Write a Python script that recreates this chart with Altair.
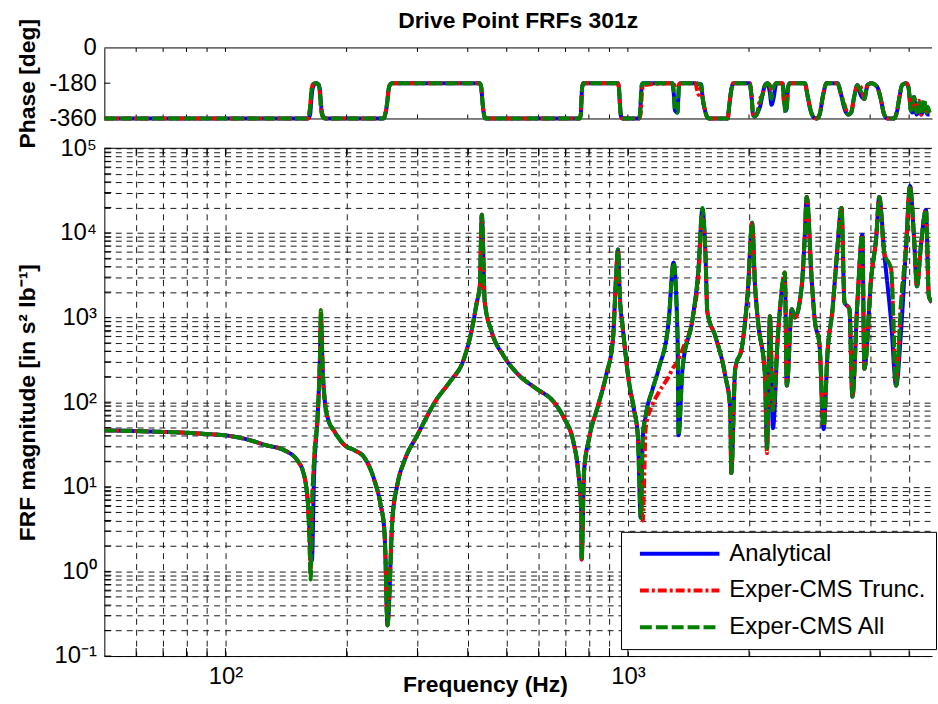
import altair as alt
import pandas as pd

FONT = "Liberation Sans"

series_names = ["Analytical", "Exper-CMS Trunc.", "Exper-CMS All"]
series_colors = ["#0000ff", "#ff0000", "#008000"]
series_dashes = [[1, 0], [9, 3, 3, 3], [12, 4]]

chart_title = "Drive Point FRFs 301z"

# ---- magnitude data (Hz, in s^2 lb^-1) ----
mag_freq = [50, 60, 70, 80, 90, 100, 114, 126, 140, 151.4, 155.8, 158.5, 160.3, 161.8, 162.8, 164, 165.9,
            169.7, 171.6, 172.6, 174.5, 176.6, 179.7, 186.6, 197.8, 209.4, 221.6, 234.4, 242.7, 248.3, 250,
            251.5, 252.6, 259.8, 267.3, 278.2, 299.6, 335.7, 361.4, 391.4, 409.7, 421.4, 428.6, 433.6, 441,
            458.9, 491.3, 538.1, 592.7, 652.8, 695, 731.5, 752.5, 765.6, 767.5, 778.4, 801, 843.3, 882.5,
            918.3, 934, 944.8, 955, 972, 1006, 1034.7, 1058.5, 1076.5, 1089, 1107.7, 1152.7, 1192.7, 1262.4,
            1298.8, 1328.7, 1336.4, 1367, 1447.4, 1497.6, 1532, 1558.3, 1576, 1649, 1746, 1796.6, 1806.9,
            1848.5, 1923, 1990, 2035.6, 2070.6, 2106.5, 2191.6, 2216.9, 2254.4, 2293.4, 2359.4, 2455, 2483.3,
            2555, 2598.6, 2704, 2751, 2782.6, 2862.4, 2911.7, 2995.6, 3064.7, 3135.3, 3225.6, 3299.9, 3395.3,
            3453.7, 3553, 3614, 3718.7, 3825.6, 3869.4, 4027, 4143, 4214, 4335.5, 4511, 4641, 4775, 4913,
            5025, 5140, 5229, 5346, 5504, 5598, 5696]

mag_all = [46.4, 45.5, 44.5, 43.5, 42, 40.5, 36, 31, 27, 20, 15.3, 10.5, 6.3, 2.1, 0.8, 5.2, 20,
           78, 300, 1220, 230, 102, 64, 45, 31, 27, 22, 12, 6.3, 3.0, 1.3,
           0.38, 0.23, 4.0, 10.5, 20.1, 40.5, 110, 175, 325, 731, 1520, 2340, 16360, 1520,
           674, 352, 205, 144, 102, 64, 34.5, 15.3, 5.2, 1.38, 15.3, 37.4, 91, 205,
           557, 2820, 6350, 1780, 731, 175, 84, 40.5, 4.3, 40, 70, 144, 248, 883,
           4470, 605, 40.5, 248, 957, 3700, 19770, 5860, 1157, 605, 205, 84, 14.5,
           248, 461, 2340, 13200, 2340, 883, 205, 28.5, 1037, 80, 605, 3410, 157,
           1255, 1000, 2340, 9020, 26600, 2820, 957, 461, 52, 392, 1255, 4840, 19770,
           1520, 1255, 116, 1520, 9530, 248, 3060, 9020, 26600, 5860, 3700, 157, 1520, 6880,
           35800, 9020, 2340, 6880, 18700, 1780, 1520]

mag_analytical = [46.4, 45.5, 44.5, 43.5, 42, 40.5, 36, 31, 27, 20, 15.3, 10.5, 6.3, 3.0, 1.5, 1.35, 12,
                  78, 300, 900, 230, 102, 64, 45, 31, 27, 22, 12, 6.3, 3.0, 1.3,
                  0.38, 0.23, 4.0, 10.5, 20.1, 40.5, 110, 175, 325, 731, 1520, 2340, 16360, 1520,
                  674, 352, 205, 144, 102, 64, 34.5, 15.3, 5.2, 1.38, 15.3, 37.4, 91, 205,
                  557, 2820, 6350, 1780, 731, 175, 84, 40.5, 4.3, 38, 70, 144, 248, 883,
                  4470, 605, 40.5, 248, 957, 3700, 19000, 5860, 1157, 605, 205, 84, 14.5,
                  248, 461, 2340, 13200, 2340, 883, 205, 28.5, 1037, 49, 605, 3000, 157,
                  1255, 1000, 2340, 9020, 26600, 2820, 957, 461, 48, 392, 1255, 4840, 19770,
                  1520, 1255, 116, 1520, 9530, 248, 3060, 9020, 26600, 5860, 880, 157, 700, 6880,
                  35800, 9020, 2340, 6880, 18700, 1780, 1520]

mag_trunc = [46.4, 45.5, 44.5, 43.5, 42, 40.5, 36, 31, 27, 20, 15.3, 10.5, 6.3, 2.1, 0.9, 5.0, 20,
             78, 300, 1220, 230, 102, 64, 45, 31, 27, 22, 12, 6.3, 3.0, 1.3,
             0.38, 0.23, 4.0, 10.5, 20.1, 40.5, 110, 175, 325, 731, 1520, 2340, 16360, 1520,
             674, 352, 205, 144, 102, 64, 34.5, 15.3, 5.2, 1.38, 15.3, 37.4, 91, 205,
             557, 2820, 6350, 1780, 731, 175, 84, 40.5, 10, 4.0, 50, 95, 130, 200,
             260, 300, 320, 420, 950, 3000, 16000, 5860, 1157, 605, 205, 84, 14.5,
             248, 461, 2340, 13200, 2340, 883, 205, 25, 1037, 80, 605, 3410, 157,
             1255, 1000, 2340, 9020, 26600, 2820, 957, 461, 52, 392, 1255, 4840, 19770,
             1520, 1255, 116, 1520, 9530, 248, 3060, 9020, 26600, 5860, 3700, 157, 1520, 6880,
             35800, 9020, 2340, 6880, 18700, 1780, 1520]

# ---- phase data (Hz, deg) ----
phase_freq = [50, 160.3, 162.3, 163.5, 165, 167.8, 170, 171.6, 173, 175, 177, 247, 250, 252.6, 254, 256, 259,
              428, 432, 435, 439, 443, 758, 764, 767, 770, 776, 944, 950, 955, 962, 970, 1065, 1072, 1077,
              1082, 1090, 1290, 1299, 1310, 1328, 1334, 1340, 1350, 1470, 1500, 1520, 1535, 1560, 1576, 1590,
              1770, 1785, 1805, 1830, 2006, 2030, 2047, 2065, 2100, 2130, 2160, 2192, 2220, 2254, 2275, 2300,
              2340, 2420, 2440, 2465, 2483, 2500, 2530, 2751, 2800, 2846, 2900, 2946, 2996, 3050, 3118, 3318,
              3380, 3454, 3530, 3588, 3650, 3719, 3790, 3869, 3940, 4027, 4167, 4250, 4335, 4420, 4590, 4668,
              4740, 4802, 4913, 4980, 5054, 5100, 5140, 5220, 5288, 5360, 5442, 5520, 5560, 5620]

phase_all = [-360, -360, -300, -220, -185, -180, -185, -230, -320, -355, -360, -360, -330, -270, -220, -190, -180,
             -180, -200, -270, -340, -360, -360, -340, -260, -200, -180, -180, -200, -280, -350, -360, -360, -330, -250,
             -190, -180, -180, -220, -320, -330, -260, -190, -180, -180, -182, -190, -260, -330, -355, -360,
             -360, -300, -220, -180, -180, -250, -340, -350, -330, -280, -240, -190, -180, -200, -260, -200,
             -180, -180, -250, -330, -300, -200, -180, -180, -250, -320, -355, -360, -340, -250, -180, -180,
             -230, -300, -340, -330, -250, -190, -220, -260, -190, -180, -200, -260, -340, -360, -360, -320,
             -240, -190, -180, -200, -320, -300, -250, -330, -280, -340, -260, -330, -300, -330]

phase_analytical = [-360, -360, -340, -260, -200, -180, -185, -210, -300, -350, -360, -360, -330, -270, -220, -190, -180,
                    -180, -200, -270, -340, -360, -360, -340, -260, -200, -180, -180, -200, -280, -350, -360, -360, -340, -270,
                    -200, -180, -180, -220, -320, -330, -260, -190, -180, -180, -185, -185, -260, -330, -355, -360,
                    -360, -300, -220, -180, -180, -250, -340, -350, -330, -300, -240, -190, -180, -230, -290, -260,
                    -180, -180, -230, -320, -300, -200, -180, -180, -250, -320, -355, -360, -340, -250, -180, -180,
                    -230, -310, -340, -330, -250, -190, -240, -260, -190, -180, -200, -260, -340, -360, -360, -320,
                    -240, -190, -180, -200, -320, -330, -250, -340, -300, -340, -300, -330, -340, -340]

phase_trunc = [-360, -360, -300, -220, -185, -180, -185, -230, -320, -355, -360, -360, -330, -270, -220, -190, -180,
               -180, -200, -270, -340, -360, -360, -340, -260, -200, -180, -180, -200, -280, -350, -360, -360, -350, -330,
               -250, -190, -180, -185, -190, -185, -180, -190, -180, -180, -240, -200, -260, -330, -355, -360,
               -360, -300, -220, -180, -180, -250, -340, -350, -330, -260, -240, -190, -180, -190, -220, -190,
               -180, -180, -270, -300, -300, -200, -180, -180, -250, -320, -355, -360, -340, -250, -180, -180,
               -230, -290, -340, -330, -250, -190, -200, -260, -190, -180, -200, -260, -340, -360, -360, -320,
               -240, -190, -180, -200, -320, -290, -250, -320, -270, -340, -270, -330, -310, -330]

# ---- ticks / labels ----
x_tick_values = [60, 70, 80, 90, 100, 200, 300, 400, 500, 600, 700, 800, 900, 1000, 2000, 3000, 4000, 5000]
mag_tick_values = [k * 10.0 ** e for e in range(-1, 5) for k in range(1, 10)] + [1e5]
phase_tick_values = [-360, -180, 0]


def long_df(freq, cols):
    rows = []
    for name, vals in zip(series_names, cols):
        for f, v in zip(freq, vals):
            rows.append({"freq": f, "value": v, "series": name})
    return pd.DataFrame(rows)


mag_df = long_df(mag_freq, [mag_analytical, mag_trunc, mag_all])
ph_df = long_df(phase_freq, [phase_analytical, phase_trunc, phase_all])

W, H_PH, H_MAG = 833, 71, 511
TICK_FS, TITLE_FS = 24, 23

x_scale = alt.Scale(type="log", domain=[50, 5700], nice=False)
mag_scale = alt.Scale(type="log", domain=[0.1, 1e5], nice=False)
ph_scale = alt.Scale(domain=[-360, 0], nice=False, zero=False)
color_scale = alt.Scale(domain=series_names, range=series_colors)
dash_scale = alt.Scale(domain=series_names, range=series_dashes)

legend = alt.Legend(title=None, orient="none", legendX=520, legendY=386, symbolType="M-4,0H4",
                    symbolSize=400, symbolStrokeWidth=4, symbolFillColor="transparent",
                    labelFont=FONT, labelFontSize=24,
                    labelColor="black", labelLimit=400, labelOffset=38, padding=10, rowPadding=13,
                    symbolOffset=37, fillColor="white", strokeColor="black", cornerRadius=0)

grid_style = dict(gridColor="#1a1a1a", gridDash=[6, 5], gridWidth=1)

x_axis_mag = alt.Axis(values=x_tick_values,
                      labelExpr="datum.value == 100 ? '10\u00b2' : datum.value == 1000 ? '10\u00b3' : ''",
                      grid=True, ticks=False, domain=True, domainColor="black", labelFont=FONT,
                      labelFontSize=TICK_FS, labelColor="black", labelPadding=9, labelOverlap=False,
                      labelFlush=False, title="Frequency (Hz)", titleFont=FONT, titleFontSize=TITLE_FS,
                      titleFontWeight="bold", titleColor="black", titleX=383, titleY=29,
                      titleBaseline="middle", titleAlign="center", **grid_style)

y_label_expr = ("datum.value == 0.1 ? '10\u207b\u00b9' : datum.value == 1 ? '10\u2070' : "
                "datum.value == 10 ? '10\u00b9' : datum.value == 100 ? '10\u00b2' : "
                "datum.value == 1000 ? '10\u00b3' : datum.value == 10000 ? '10\u2074' : "
                "datum.value == 100000 ? '10\u2075' : ''")

y_axis_mag = alt.Axis(values=mag_tick_values, labelExpr=y_label_expr, grid=True, ticks=False,
                      domain=True, domainColor="black", labelFont=FONT, labelFontSize=TICK_FS,
                      labelColor="black", labelPadding=8, labelOverlap=False, labelFlush=False,
                      title="FRF magnitude [in s\u00b2 lb\u207b\u00b9]", titleFont=FONT, titleFontSize=TITLE_FS,
                      titleFontWeight="bold", titleColor="black", titleX=-77, titleBaseline="middle",
                      **grid_style)

x_axis_ph = alt.Axis(values=x_tick_values, labels=False, ticks=False, grid=False, domain=True,
                     domainColor="black", title=None)

y_axis_ph = alt.Axis(values=phase_tick_values, labelExpr="'' + datum.value", grid=False, ticks=False,
                     domain=True, domainColor="black", labelFont=FONT, labelFontSize=TICK_FS, labelColor="black",
                     labelPadding=8, labelOverlap=False, labelFlush=False, title="Phase [deg]",
                     titleFont=FONT, titleFontSize=TITLE_FS, titleFontWeight="bold", titleColor="black",
                     titleX=-77, titleBaseline="middle")


def line_layers(df, yscale, xaxis, yaxis, show_legend, clip):
    layers = []
    for name in series_names:
        sub = df[df.series == name]
        layers.append(
            alt.Chart(sub).mark_line(strokeWidth=4, clip=clip, interpolate="monotone").encode(
                x=alt.X("freq:Q", scale=x_scale, axis=xaxis),
                y=alt.Y("value:Q", scale=yscale, axis=yaxis),
                color=alt.Color("series:N", scale=color_scale, legend=legend if show_legend else None),
                strokeDash=alt.StrokeDash("series:N", scale=dash_scale,
                                          legend=legend if show_legend else None),
            )
        )
    return layers


xt_df = pd.DataFrame({"freq": x_tick_values})
one_row = pd.DataFrame({"a": [0]})


def x_ticks(xaxis, h, size):
    top = alt.Chart(xt_df).mark_rule(color="black", strokeWidth=1).encode(
        x=alt.X("freq:Q", scale=x_scale, axis=xaxis), y=alt.value(0), y2=alt.value(size))
    bottom = alt.Chart(xt_df).mark_rule(color="black", strokeWidth=1).encode(
        x=alt.X("freq:Q", scale=x_scale, axis=xaxis), y=alt.value(h - size), y2=alt.value(h))
    return [top, bottom]


def top_border():
    return alt.Chart(one_row).mark_rule(color="black", strokeWidth=1).encode(
        x=alt.value(0), x2=alt.value(W), y=alt.value(0))


title_mark = alt.Chart(one_row).mark_text(
    text=chart_title, font=FONT, fontSize=23, fontWeight="bold", color="black",
    align="center", baseline="middle"
).encode(x=alt.value(W / 2), y=alt.value(-27))

# phase panel
ph_left_ticks = alt.Chart(pd.DataFrame({"value": [-180]})).mark_rule(color="black").encode(
    y=alt.Y("value:Q", scale=ph_scale, axis=y_axis_ph), x=alt.value(0), x2=alt.value(6))

phase_chart = alt.layer(
    top_border(), *x_ticks(x_axis_ph, H_PH, 4), ph_left_ticks, title_mark,
    *line_layers(ph_df, ph_scale, x_axis_ph, y_axis_ph, False, False)
).properties(width=W, height=H_PH)

# magnitude panel
mag_left_ticks = alt.Chart(pd.DataFrame({"value": mag_tick_values})).mark_rule(color="black").encode(
    y=alt.Y("value:Q", scale=mag_scale, axis=y_axis_mag), x=alt.value(0), x2=alt.value(7))

mag_chart = alt.layer(
    top_border(), *x_ticks(x_axis_mag, H_MAG, 8), mag_left_ticks,
    *line_layers(mag_df, mag_scale, x_axis_mag, y_axis_mag, True, True)
).properties(width=W, height=H_MAG)

chart = alt.vconcat(phase_chart, mag_chart, spacing=30, bounds="flush").resolve_legend(
    color="independent", strokeDash="independent"
).properties(
    padding={"left": 17, "top": 8, "right": 0, "bottom": 0}, background="white"
).configure_view(stroke=None).configure_axis(labelFont=FONT, titleFont=FONT)

chart.save("out.html", embed_options={"renderer": "svg", "actions": False})
